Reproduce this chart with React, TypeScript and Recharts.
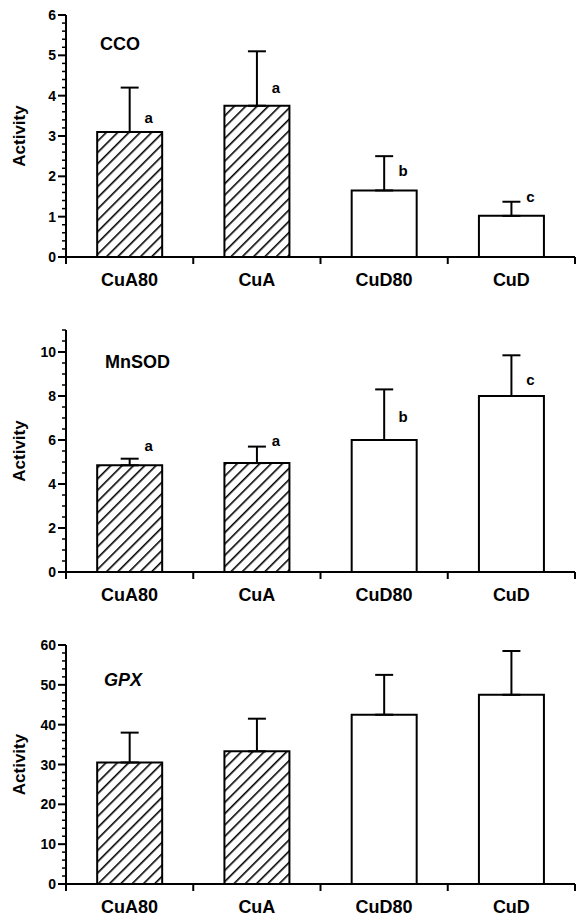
import React from "react";
import { Bar, BarChart, Cell, ErrorBar, LabelList, Line, XAxis, YAxis } from "recharts";

const groups = ["CuA80", "CuA", "CuD80", "CuD"];

const ccoMean = [3.1, 3.75, 1.65, 1.02];
const ccoTop = [4.2, 5.1, 2.5, 1.37];
const ccoLetters = ["a", "a", "b", "c"];
const ccoLetterAt = [3.47, 4.2, 2.15, 1.5];
const ccoTicks = [0, 1, 2, 3, 4, 5, 6];

const mnsodMean = [4.85, 4.95, 6.0, 8.0];
const mnsodTop = [5.15, 5.7, 8.3, 9.85];
const mnsodLetters = ["a", "a", "b", "c"];
const mnsodLetterAt = [5.76, 6.0, 7.07, 8.77];
const mnsodTicks = [0, 2, 4, 6, 8, 10];

const gpxMean = [30.5, 33.3, 42.5, 47.5];
const gpxTop = [38, 41.5, 52.5, 58.5];
const gpxTicks = [0, 10, 20, 30, 40, 50, 60];

const W = 577;
const Y_AXIS_W = 66;
const RIGHT = 2;
const HALF_BAND = (W - Y_AXIS_W - RIGHT) / groups.length / 2;
const TICK_SIZE = 8;
const TICK_MARGIN = 3;
const FONT = "'Liberation Sans', Arial, sans-serif";

const minorTicks = (max: number, step: number) => {
  const out: number[] = [];
  for (let i = 0; i * step <= max + 1e-9; i++) out.push(Math.round(i * step * 1000) / 1000);
  return out;
};

const makeYTick = (majors: number[]) => (props: any) => {
  const { x, y, payload } = props;
  const axisX = x + TICK_SIZE + TICK_MARGIN;
  const major = majors.some((m) => Math.abs(m - payload.value) < 1e-6);
  return (
    <g>
      <line x1={axisX - (major ? 8 : 4)} x2={axisX} y1={y} y2={y} stroke="#000" strokeWidth={major ? 2 : 1.5} />
      {major && (
        <text x={axisX - 10} y={y} textAnchor="end" dominantBaseline="central" fontFamily={FONT} fontWeight="bold" fontSize={14} fill="#000">
          {payload.value}
        </text>
      )}
    </g>
  );
};

const XTick = (props: any) => {
  const { x, y, payload, index } = props;
  const axisY = y - TICK_SIZE - TICK_MARGIN;
  return (
    <g>
      <line x1={x - HALF_BAND} x2={x - HALF_BAND} y1={axisY} y2={axisY + 7} stroke="#000" strokeWidth={2} />
      {index === groups.length - 1 && (
        <line x1={x + HALF_BAND} x2={x + HALF_BAND} y1={axisY} y2={axisY + 7} stroke="#000" strokeWidth={2} />
      )}
      <text x={x} y={axisY + 23} textAnchor="middle" dominantBaseline="central" fontFamily={FONT} fontWeight="bold" fontSize={18} fill="#000">
        {payload.value}
      </text>
    </g>
  );
};

const activityLabel = (props: any) => {
  const { x, y, height } = props.viewBox;
  const cx = x + 19;
  const cy = y + height / 2;
  return (
    <text x={cx} y={cy} transform={`rotate(-90 ${cx} ${cy})`} textAnchor="middle" dominantBaseline="central" fontFamily={FONT} fontWeight="bold" fontSize={17} fill="#000">
      Activity
    </text>
  );
};

const letterLabel = (props: any) => {
  const { x, y, value } = props;
  if (!value) return null;
  return (
    <text x={x + 19} y={y} textAnchor="middle" dominantBaseline="central" fontFamily={FONT} fontWeight="bold" fontSize={15} fill="#000">
      {value}
    </text>
  );
};

type PanelProps = {
  id: string;
  title: string;
  italic?: boolean;
  titleX: number;
  titleY: number;
  top: number;
  height: number;
  xAxisHeight: number;
  max: number;
  minorStep: number;
  majors: number[];
  mean: number[];
  errTop: number[];
  letters?: string[];
  letterAt?: number[];
};

function Panel({ id, title, italic, titleX, titleY, top, height, xAxisHeight, max, minorStep, majors, mean, errTop, letters, letterAt }: PanelProps) {
  const data = groups.map((name, i) => ({
    name,
    mean: mean[i],
    err: [0, errTop[i] - mean[i]],
    letter: letters ? letters[i] : "",
    letterAt: letterAt ? letterAt[i] : null,
  }));
  return (
    <div style={{ position: "absolute", left: 0, top, width: W, height }}>
      <BarChart width={W} height={height} data={data} margin={{ top: 15, right: RIGHT, bottom: 0, left: 0 }} barCategoryGap="24.5%">
        <defs>
          <pattern id={`hatch-${id}`} patternUnits="userSpaceOnUse" width={8} height={8} patternTransform="rotate(45)">
            <rect width={8} height={8} fill="#fff" />
            <line x1={0} y1={0} x2={0} y2={8} stroke="#000" strokeWidth={3.2} />
          </pattern>
        </defs>
        <XAxis dataKey="name" interval={0} tickSize={TICK_SIZE} tickMargin={TICK_MARGIN} tickLine={false} axisLine={{ stroke: "#000", strokeWidth: 2 }} tick={XTick} height={xAxisHeight} />
        <XAxis xAxisId="top" orientation="top" dataKey="name" tick={false} tickLine={false} height={0} axisLine={{ stroke: "#000", strokeWidth: 2 }} />
        <YAxis
          type="number"
          domain={[0, max]}
          ticks={minorTicks(max, minorStep)}
          interval={0}
          allowDataOverflow
          width={Y_AXIS_W}
          tickSize={TICK_SIZE}
          tickMargin={TICK_MARGIN}
          tickLine={false}
          axisLine={{ stroke: "#000", strokeWidth: 2 }}
          tick={makeYTick(majors)}
          label={{ content: activityLabel }}
        />
        <YAxis yAxisId="right" orientation="right" type="number" domain={[0, max]} tick={false} tickLine={false} width={0} axisLine={{ stroke: "#000", strokeWidth: 2 }} />
        <Bar dataKey="mean" stroke="#000" strokeWidth={2} isAnimationActive={false}>
          {data.map((d) => (
            <Cell key={d.name} fill={d.name.startsWith("CuA") ? `url(#hatch-${id})` : "#fff"} />
          ))}
          <ErrorBar dataKey="err" direction="y" width={9} stroke="#000" strokeWidth={2} />
        </Bar>
        {letters && (
          <Line dataKey="letterAt" stroke="none" dot={false} activeDot={false} isAnimationActive={false}>
            <LabelList dataKey="letter" content={letterLabel} />
          </Line>
        )}
      </BarChart>
      <div
        style={{
          position: "absolute",
          left: titleX,
          top: titleY - 10,
          fontFamily: FONT,
          fontWeight: "bold",
          fontStyle: italic ? "italic" : "normal",
          fontSize: 18,
          lineHeight: "20px",
          color: "#000",
        }}
      >
        {title}
      </div>
    </div>
  );
}

export default function App() {
  return (
    <div style={{ position: "absolute", left: 0, top: 0, width: W, height: 919, background: "#fff" }}>
      <Panel id="cco" title="CCO" titleX={100} titleY={44} top={0} height={300} xAxisHeight={43} max={6} minorStep={0.2} majors={ccoTicks} mean={ccoMean} errTop={ccoTop} letters={ccoLetters} letterAt={ccoLetterAt} />
      <Panel id="mnsod" title="MnSOD" titleX={105} titleY={47} top={315} height={300} xAxisHeight={43} max={11} minorStep={0.5} majors={mnsodTicks} mean={mnsodMean} errTop={mnsodTop} letters={mnsodLetters} letterAt={mnsodLetterAt} />
      <Panel id="gpx" title="GPX" italic titleX={104} titleY={50} top={630} height={289} xAxisHeight={35} max={60} minorStep={2} majors={gpxTicks} mean={gpxMean} errTop={gpxTop} />
    </div>
  );
}
